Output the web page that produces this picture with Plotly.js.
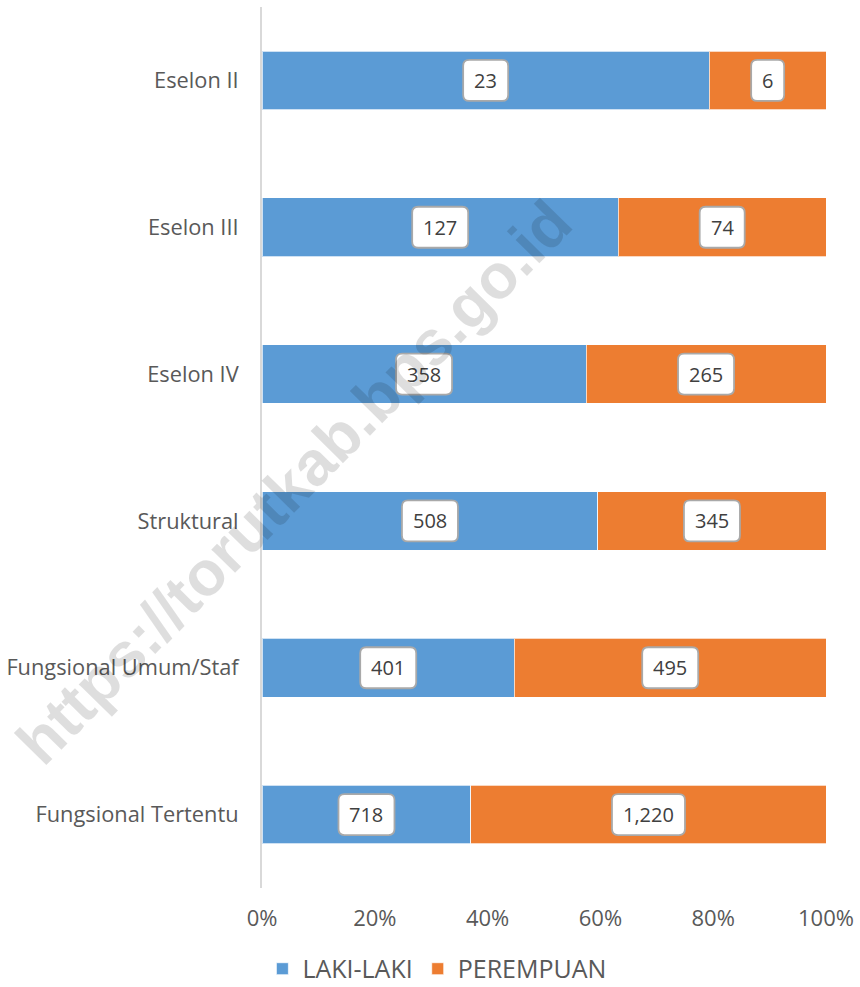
<!DOCTYPE html>
<html>
<head>
<meta charset="utf-8">
<script src="https://cdn.plot.ly/plotly-3.0.1.min.js"></script>
<style>
  html, body { margin: 0; padding: 0; background: #ffffff; }
</style>
</head>
<body>
<div id="chart" style="width:860px;height:987px;"></div>
<script>
// Data (top to bottom)
const categories = ["Eselon II", "Eselon III", "Eselon IV", "Struktural", "Fungsional Umum/Staf", "Fungsional Tertentu"];
const lakiLaki = [23, 127, 358, 508, 401, 718];
const perempuan = [6, 74, 265, 345, 495, 1220];
const xTickVals = [0, 20, 40, 60, 80, 100];
const xTickText = ["0%", "20%", "40%", "60%", "80%", "100%"];
const seriesNames = ["LAKI-LAKI", "PEREMPUAN"];
const watermark = "https://torutkab.bps.go.id";

const BLUE = "#5B9BD5", ORANGE = "#ED7D31";
const FONT = '"Open Sans", "Noto Sans", sans-serif';

const traces = [
  { type: "bar", orientation: "h", name: seriesNames[0], y: categories, x: lakiLaki,
    marker: { color: BLUE, line: { color: "rgba(255,255,255,0.7)", width: 1 } }, hoverinfo: "skip" },
  { type: "bar", orientation: "h", name: seriesNames[1], y: categories, x: perempuan,
    marker: { color: ORANGE, line: { color: "rgba(255,255,255,0.7)", width: 1 } }, hoverinfo: "skip" }
];

// measure text width for label boxes
const cv = document.createElement("canvas").getContext("2d");
cv.font = '20px "Open Sans"';
function tw(s) { return cv.measureText(s).width; }

function roundRect(w, h, r) {
  const a = w / 2, b = h / 2;
  return `M ${-a + r},${-b} H ${a - r} Q ${a},${-b} ${a},${-b + r} V ${b - r} Q ${a},${b} ${a - r},${b} ` +
         `H ${-a + r} Q ${-a},${b} ${-a},${b - r} V ${-b + r} Q ${-a},${-b} ${-a + r},${-b} Z`;
}

const annotations = [];
const shapes = [];
categories.forEach((c, i) => {
  const tot = lakiLaki[i] + perempuan[i];
  const pl = lakiLaki[i] / tot * 100;
  const items = [[pl / 2, lakiLaki[i]], [pl + (100 - pl) / 2, perempuan[i]]];
  items.forEach(([xc, v]) => {
    const t = v.toLocaleString("en-US");
    const w = Math.round(tw(t) + 22);
    shapes.push({
      type: "path", layer: "above", xref: "x", yref: "y",
      xsizemode: "pixel", ysizemode: "pixel", xanchor: xc, yanchor: i,
      path: roundRect(w, 41, 6),
      fillcolor: "#ffffff", line: { color: "#a9a9a9", width: 1.8 }
    });
    annotations.push({
      xref: "x", yref: "y", x: xc, y: i, text: t, showarrow: false,
      font: { family: FONT, size: 20, color: "#404040" },
      xanchor: "center", yanchor: "middle"
    });
  });
});

// watermark overlay
annotations.push({
  xref: "paper", yref: "paper", x: 0.056, y: 0.4608, xanchor: "center", yanchor: "middle",
  text: "<b>" + watermark + "</b>", showarrow: false, textangle: -45.5,
  font: { family: '"Liberation Sans", Arial, sans-serif', size: 63, color: "rgba(0,0,0,0.13)" }
});

const layout = {
  width: 860, height: 987,
  margin: { l: 262, r: 34, t: 7, b: 99, pad: 0, autoexpand: false },
  paper_bgcolor: "#ffffff", plot_bgcolor: "#ffffff",
  barmode: "stack", barnorm: "percent", bargap: 0.6,
  font: { family: FONT, size: 20, color: "#595959" },
  xaxis: {
    range: [0, 100], tickvals: xTickVals, ticktext: xTickText,
    showgrid: false, zeroline: false, showline: false, ticks: "",
    tickfont: { family: FONT, size: 22, color: "#595959" },
    ticklabelstandoff: 15, fixedrange: true
  },
  yaxis: {
    type: "category", autorange: "reversed",
    showgrid: false, zeroline: false, showline: true, linecolor: "#d9d9d9", linewidth: 2,
    ticks: "", tickfont: { family: FONT, size: 21.8, color: "#595959" },
    ticklabelstandoff: 17, fixedrange: true
  },
  showlegend: true,
  legend: {
    orientation: "h", traceorder: "normal", xref: "container", yref: "paper",
    x: 0.508, xanchor: "center", y: -0.0919, yanchor: "middle",
    font: { family: FONT, size: 25, color: "#595959" },
    itemwidth: 30, bgcolor: "rgba(0,0,0,0)"
  },
  shapes: shapes,
  annotations: annotations
};

Plotly.newPlot("chart", traces, layout, { displayModeBar: false, staticPlot: true });
</script>
</body>
</html>
